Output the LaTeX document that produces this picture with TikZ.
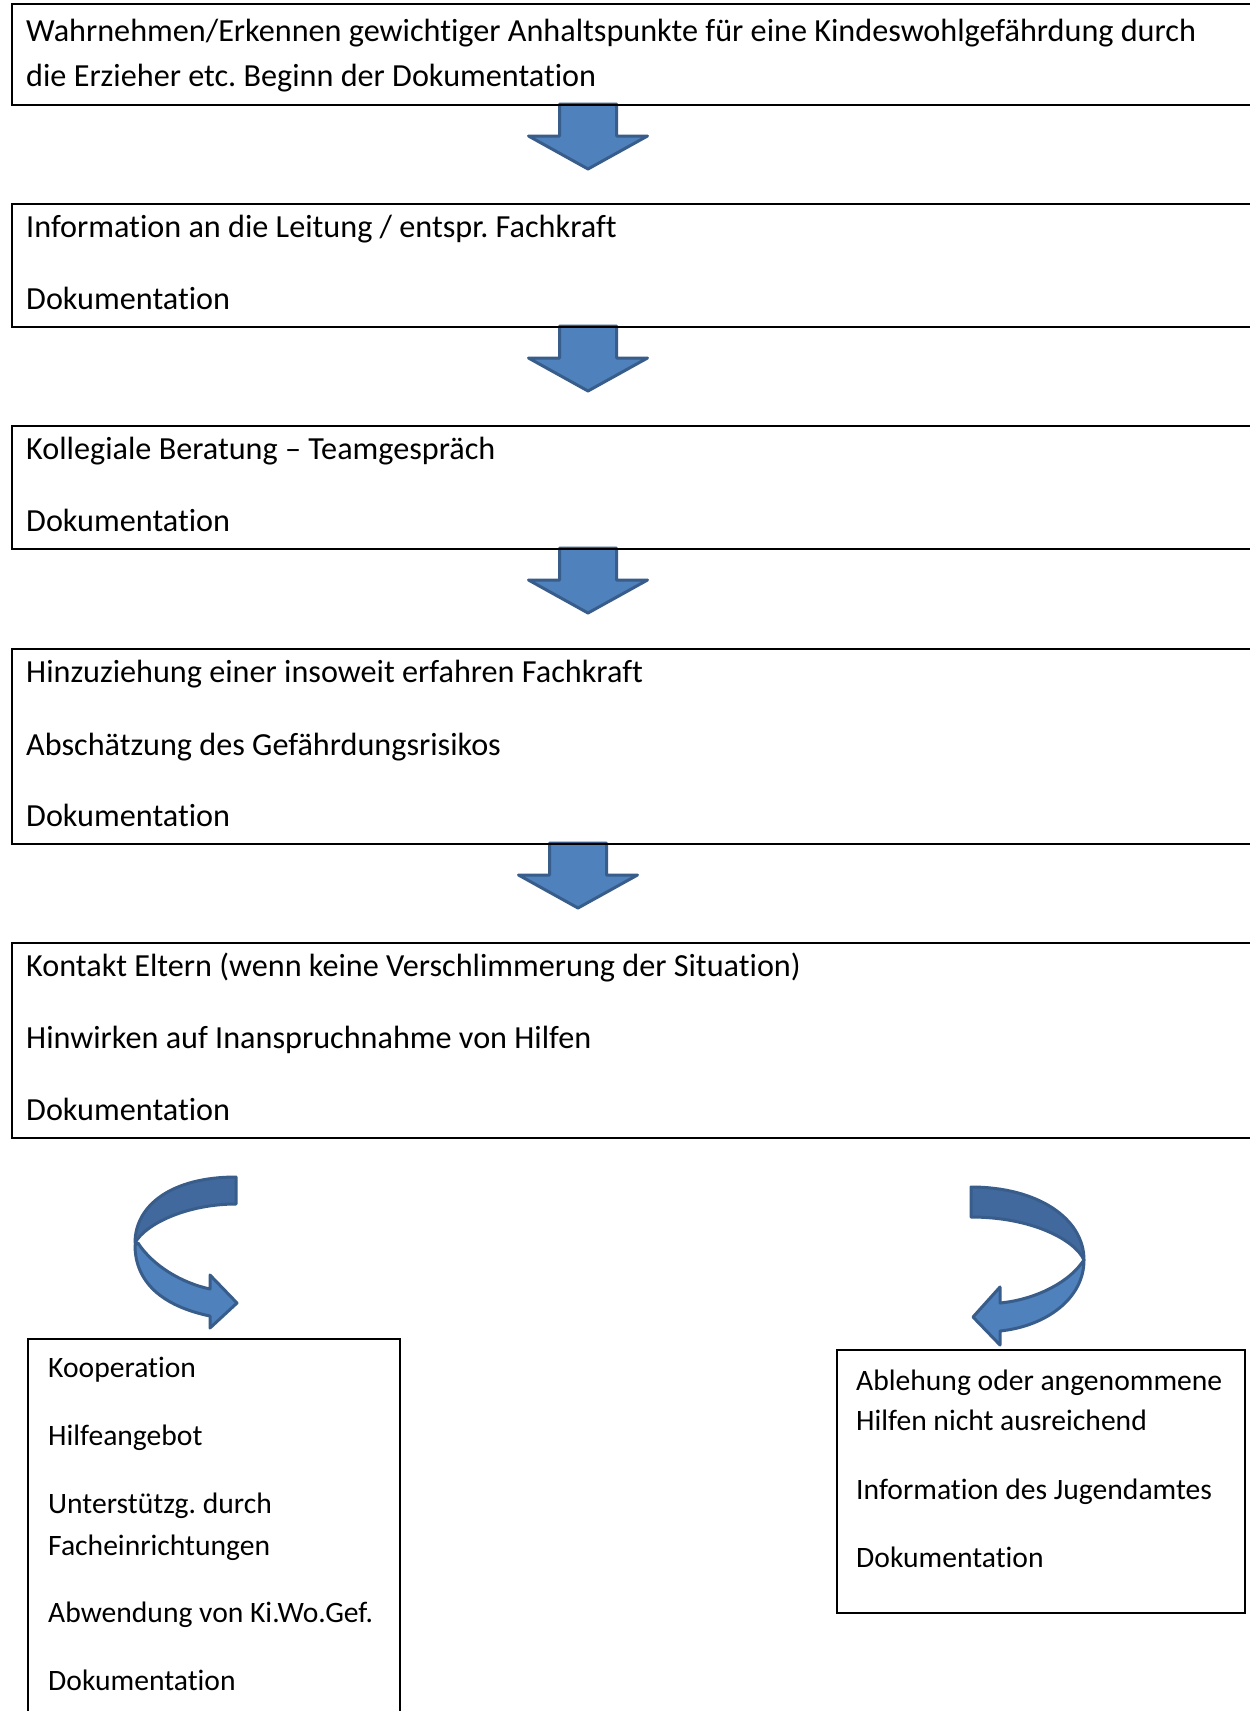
\documentclass[tikz,border=0pt]{standalone}
\usepackage{fontspec}
\setmainfont{Carlito}[RawFeature=-liga]
\frenchspacing
\definecolor{afill}{HTML}{4F81BD}
\definecolor{adark}{HTML}{41699D}
\definecolor{aline}{HTML}{385D8A}
\begin{document}
\begin{tikzpicture}[x=1pt,y=-1pt,
  box/.style={draw=black,line width=2pt,inner sep=0pt,anchor=north west},
  txt/.style={anchor=base west,inner sep=0pt,font=\fontsize{32.2}{38}\selectfont},
  stxt/.style={anchor=base west,inner sep=0pt,font=\fontsize{29.6}{35}\selectfont},
  arrowstyle/.style={fill=afill,draw=aline,line width=3pt,line join=round},
  backstyle/.style={fill=adark,draw=aline,line width=3pt,line join=round},
  downarr/.pic={\path[arrowstyle] (-28.5,0) -- (28.5,0) -- (28.5,32) -- (59.5,32) -- (0,65) -- (-59.5,32) -- (-28.5,32) -- cycle;}
]
\useasboundingbox (0,0) rectangle (1250,1711);
\clip (0,0) rectangle (1250,1711);
\fill[white] (0,0) rectangle (1250,1711);

% block arrows
\pic at (588,104) {downarr};
\pic at (588,326) {downarr};
\pic at (588,548) {downarr};
\pic at (578,843) {downarr};

% boxes
\node[box,minimum width=1300,minimum height=101] (b1) at (11,3) {};
\node[box,minimum width=1300,minimum height=123] (b2) at (11,203) {};
\node[box,minimum width=1300,minimum height=123] (b3) at (11,425) {};
\node[box,minimum width=1300,minimum height=195] (b4) at (11,648) {};
\node[box,minimum width=1300,minimum height=195] (b5) at (11,942) {};
\node[box,minimum width=372,minimum height=420] (bl) at (27,1338) {};
\node[box,minimum width=408,minimum height=263] (br) at (836,1349) {};

% texts
\node[txt] (t11) at (26,41) {Wahrnehmen/Erkennen gewichtiger Anhaltspunkte für eine Kindeswohlgefährdung durch};
\node[txt] (t12) at (26,86) {die Erzieher etc. Beginn der Dokumentation};
\node[txt] (t21) at (26,237) {Information an die Leitung / entspr. Fachkraft};
\node[txt] (t22) at (26,309) {Dokumentation};
\node[txt] (t31) at (26,459) {Kollegiale Beratung – Teamgespräch};
\node[txt] (t32) at (26,531) {Dokumentation};
\node[txt] (t41) at (26,682) {Hinzuziehung einer insoweit erfahren Fachkraft};
\node[txt] (t42) at (26,755) {Abschätzung des Gefährdungsrisikos};
\node[txt] (t43) at (26,826) {Dokumentation};
\node[txt] (t51) at (26,976) {Kontakt Eltern (wenn keine Verschlimmerung der Situation)};
\node[txt] (t52) at (26,1048) {Hinwirken auf Inanspruchnahme von Hilfen};
\node[txt] (t53) at (26,1120) {Dokumentation};

\node[stxt] (l1) at (48,1377) {Kooperation};
\node[stxt] (l2) at (48,1445) {Hilfeangebot};
\node[stxt] (l3) at (48,1513) {Unterstützg. durch};
\node[stxt] (l4) at (48,1555) {Facheinrichtungen};
\node[stxt] (l5) at (48,1622) {Abwendung von Ki.Wo.Gef.};
\node[stxt] (l6) at (48,1690) {Dokumentation};

\node[stxt] (r1) at (856,1390) {Ablehung oder angenommene};
\node[stxt] (r2) at (856,1430) {Hilfen nicht ausreichend};
\node[stxt] (r3) at (856,1499) {Information des Jugendamtes};
\node[stxt] (r4) at (856,1567) {Dokumentation};

% left curved arrow
\path[arrowstyle] (138,1243) .. controls (153,1266) and (182,1283) .. (210,1289)
  -- (210,1275) -- (237,1303) -- (210,1328) -- (210,1316)
  .. controls (162,1306) and (135,1282) .. (135,1245) -- cycle;
\path[backstyle] (236,1177) .. controls (172,1177) and (135,1205) .. (135,1243)
  .. controls (145,1224) and (187,1204) .. (236,1204) -- cycle;

% right curved arrow
\path[arrowstyle] (1081,1264) .. controls (1065,1285) and (1032,1300) .. (1000,1303)
  -- (1000,1287) -- (973,1317) -- (1000,1345) -- (1000,1331)
  .. controls (1047,1326) and (1084,1298) .. (1084,1260) -- cycle;
\path[backstyle] (971,1187) .. controls (1037,1187) and (1084,1218) .. (1084,1260)
  .. controls (1075,1240) and (1032,1217) .. (971,1217) -- cycle;
\end{tikzpicture}
\end{document}
